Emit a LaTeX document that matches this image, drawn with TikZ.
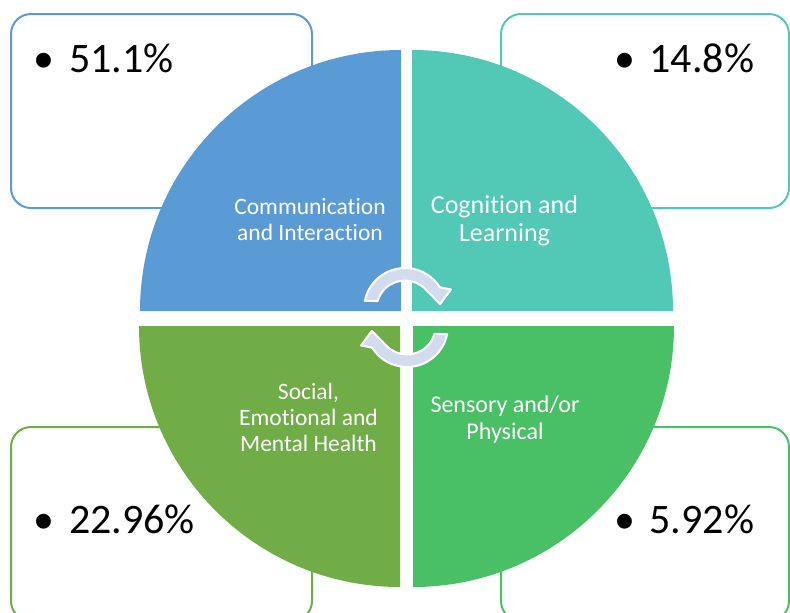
\documentclass[tikz,border=0pt]{standalone}
\usepackage{fontspec}
\setmainfont{Carlito}[Ligatures=NoCommon]
\usetikzlibrary{positioning, calc}
\definecolor{ciblue}{RGB}{91,155,213}
\definecolor{clteal}{RGB}{82,201,182}
\definecolor{semhgreen}{RGB}{112,173,71}
\definecolor{spgreen}{RGB}{74,192,102}
\definecolor{cyclefill}{RGB}{210,220,238}
\newcommand{\Pct}[1]{\makebox[35.5pt][l]{•}#1\%}
\tikzset{
    pctbox/.style={draw=#1, line width=2pt, rounded corners=20pt, fill=white},
    pct/.style={anchor=base west, inner sep=0pt, font=\fontsize{42}{50}\selectfont},
    quadlabel/.style={text=white, align=center, inner sep=0pt},
    cycle arrow/.style={fill=cyclefill, draw=white, line width=2pt, line join=round},
    cyclearrow/.pic={
    \path[cycle arrow] (168.5:41) arc[start angle=168.5, end angle=32, radius=41]
      -- (23:50) -- (8:35.5) -- (44:28.5) arc[start angle=44, end angle=164, radius=28.5] -- cycle;
    },
}
\begin{document}
\begin{tikzpicture}[x=1pt, y=1pt]
    \useasboundingbox (0,0) rectangle (790,-613);
    \clip (0,0) rectangle (790,-613);

    % outlined boxes
    \draw[pctbox=ciblue] (11,-14) rectangle (312,-208);
    \draw[pctbox=clteal] (501,-14) rectangle (789,-208);
    \draw[pctbox=semhgreen] (11,-427) rectangle (312,-621);
    \draw[pctbox=spgreen] (501,-427) rectangle (789,-621);

    \node[pct] (pctCI) at (33.5,-72) {\Pct{51.1}};
    \node[pct] (pctCL) at (614,-72) {\Pct{14.8}};
    \node[pct] (pctSEMH) at (33.5,-533) {\Pct{22.96}};
    \node[pct] (pctSP) at (614,-533) {\Pct{5.92}};

    % the four quarters
    \fill[ciblue] (401,-311) -- (140,-311) arc[start angle=180, end angle=90, radius=261] -- cycle;
    \fill[clteal] (412,-311) -- (412,-50) arc[start angle=90, end angle=0, radius=261] -- cycle;
    \fill[semhgreen] (400,-326) -- (139,-326) arc[start angle=180, end angle=270, radius=261] -- cycle;
    \fill[spgreen] (413,-326) -- (674,-326) arc[start angle=0, end angle=-90, radius=261] -- cycle;

    \node[quadlabel, font=\fontsize{23.5}{26}\selectfont] (lblCI) at (310,-219.5) {Communication\\and Interaction};
    \node[quadlabel, font=\fontsize{26}{27.5}\selectfont] (lblCL) at (504.5,-220.5) {Cognition and\\Learning};
    \node[quadlabel, font=\fontsize{23.5}{26}\selectfont] (lblSEMH) at (308.5,-417.5) {Social,\\Emotional and\\Mental Health};
    \node[quadlabel, font=\fontsize{24}{27}\selectfont] (lblSP) at (505,-419.5) {Sensory and/or\\Physical};

    \pic at (405,-309) {cyclearrow};
    \pic[rotate=180] at (407,-326) {cyclearrow};
\end{tikzpicture}
\end{document}
